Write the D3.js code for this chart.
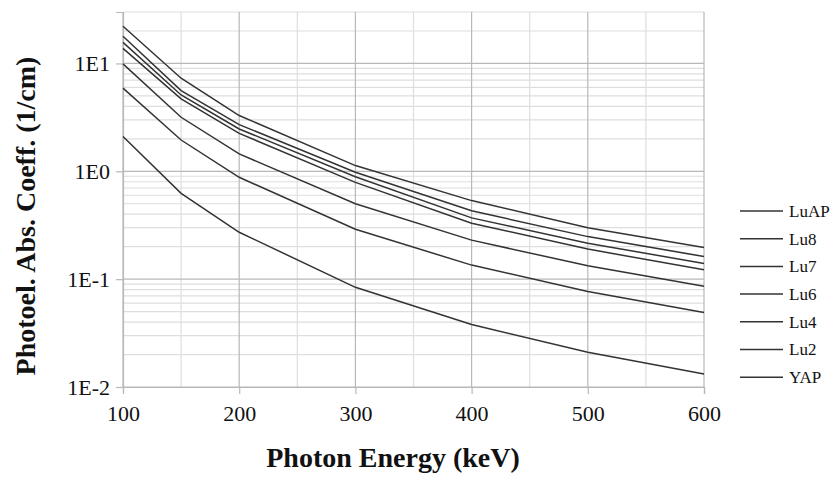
<!DOCTYPE html>
<html>
<head>
<meta charset="utf-8">
<script src="https://cdn.jsdelivr.net/npm/d3@7"></script>
<style>
  body { margin: 0; background: #fff; }
  svg { display: block; }
</style>
</head>
<body>
<div id="chart"></div>
<script>
// Data
const energies = [100, 150, 200, 300, 400, 500, 600];
const seriesNames = ["LuAP", "Lu8", "Lu7", "Lu6", "Lu4", "Lu2", "YAP"];
const LuAP = [22.1, 7.3, 3.29, 1.13, 0.535, 0.30, 0.197];
const Lu8 = [17.9, 5.6, 2.71, 0.98, 0.43, 0.248, 0.162];
const Lu7 = [15.7, 5.1, 2.47, 0.89, 0.37, 0.215, 0.14];
const Lu6 = [13.8, 4.7, 2.25, 0.79, 0.33, 0.19, 0.122];
const Lu4 = [9.9, 3.17, 1.45, 0.50, 0.23, 0.133, 0.086];
const Lu2 = [5.9, 1.95, 0.88, 0.29, 0.135, 0.077, 0.049];
const YAP = [2.1, 0.625, 0.272, 0.084, 0.038, 0.021, 0.0132];
const yTickValues = [0.01, 0.1, 1, 10];
const yTickLabels = ["1E-2", "1E-1", "1E0", "1E1"];
const xTickValues = [100, 200, 300, 400, 500, 600];

const seriesValues = [LuAP, Lu8, Lu7, Lu6, Lu4, Lu2, YAP];

const width = 834;
const height = 477;
const margin = { top: 12, right: 130, bottom: 90, left: 123 };
const serif = "'Liberation Serif', 'Times New Roman', serif";

const svg = d3.select("#chart")
    .append("svg")
    .attr("width", width)
    .attr("height", height);

const x = d3.scaleLinear()
    .domain([100, 600])
    .range([margin.left, width - margin.right]);

const y = d3.scaleLog()
    .domain([0.01, 30])
    .range([height - margin.bottom, margin.top]);

// Minor grid lines
const minorX = d3.range(150, 600, 100);
const minorY = [];
[0.01, 0.1, 1, 10].forEach(dec => {
    for (let k = 2; k <= 9; k++) {
        if (dec * k <= 30) minorY.push(dec * k);
    }
});

svg.append("g")
    .selectAll("line")
    .data(minorX)
    .join("line")
    .attr("x1", d => x(d)).attr("x2", d => x(d))
    .attr("y1", y(30)).attr("y2", y(0.01))
    .attr("stroke", "#dedede")
    .attr("stroke-width", 1.2);

svg.append("g")
    .selectAll("line")
    .data(minorY)
    .join("line")
    .attr("x1", x(100)).attr("x2", x(600))
    .attr("y1", d => y(d)).attr("y2", d => y(d))
    .attr("stroke", "#dedede")
    .attr("stroke-width", 1.2);

// Major grid lines
svg.append("g")
    .selectAll("line")
    .data(xTickValues)
    .join("line")
    .attr("x1", d => x(d)).attr("x2", d => x(d))
    .attr("y1", y(30)).attr("y2", y(0.01))
    .attr("stroke", "#b8b8b8")
    .attr("stroke-width", 1.2);

svg.append("g")
    .selectAll("line")
    .data(yTickValues)
    .join("line")
    .attr("x1", x(100)).attr("x2", x(600))
    .attr("y1", d => y(d)).attr("y2", d => y(d))
    .attr("stroke", "#b8b8b8")
    .attr("stroke-width", 1.2);

// Axes
const xAxis = d3.axisBottom(x)
    .tickValues(xTickValues)
    .tickSize(7)
    .tickFormat(d3.format("d"));

const yAxis = d3.axisLeft(y)
    .tickValues(yTickValues)
    .tickSize(7)
    .tickFormat((d, i) => yTickLabels[i]);

const gx = svg.append("g")
    .attr("transform", `translate(0, ${y(0.01)})`)
    .call(xAxis);

const gy = svg.append("g")
    .attr("transform", `translate(${x(100)}, 0)`)
    .call(yAxis);

[gx, gy].forEach(g => {
    g.attr("font-family", null);
    g.select(".domain").attr("stroke", "#b8b8b8").attr("stroke-width", 1.2);
    g.selectAll(".tick line").attr("stroke", "#b8b8b8").attr("stroke-width", 1.2);
    g.selectAll(".tick text")
        .attr("fill", "#111")
        .style("font-family", serif)
        .style("font-size", "22px");
});
gx.selectAll(".tick text").attr("dy", "1.1em");
gy.selectAll(".tick text").attr("x", -13);

// Series lines
const line = d3.line()
    .x((d, i) => x(energies[i]))
    .y(d => y(d));

svg.append("g")
    .selectAll("path")
    .data(seriesValues)
    .join("path")
    .attr("d", d => line(d))
    .attr("fill", "none")
    .attr("stroke", "#333")
    .attr("stroke-width", 1.5);

// Legend
const legend = svg.append("g")
    .attr("transform", "translate(740, 211)");

const item = legend.selectAll("g")
    .data(seriesNames)
    .join("g")
    .attr("transform", (d, i) => `translate(0, ${i * 27.7})`);

item.append("line")
    .attr("x1", 0).attr("x2", 43)
    .attr("stroke", "#333")
    .attr("stroke-width", 1.5);

item.append("text")
    .attr("x", 49)
    .attr("dy", "0.35em")
    .style("font-family", serif)
    .style("font-size", "17px")
    .attr("fill", "#111")
    .text(d => d);

// Axis titles
svg.append("text")
    .attr("text-anchor", "middle")
    .attr("x", 393)
    .attr("y", 467)
    .style("font-family", serif)
    .style("font-weight", "bold")
    .style("font-size", "28px")
    .attr("fill", "#111")
    .text("Photon Energy (keV)");

svg.append("text")
    .attr("text-anchor", "middle")
    .attr("transform", `translate(35, 216) rotate(-90)`)
    .style("font-family", serif)
    .style("font-weight", "bold")
    .style("font-size", "28px")
    .attr("fill", "#111")
    .text("Photoel. Abs. Coeff. (1/cm)");
</script>
</body>
</html>
